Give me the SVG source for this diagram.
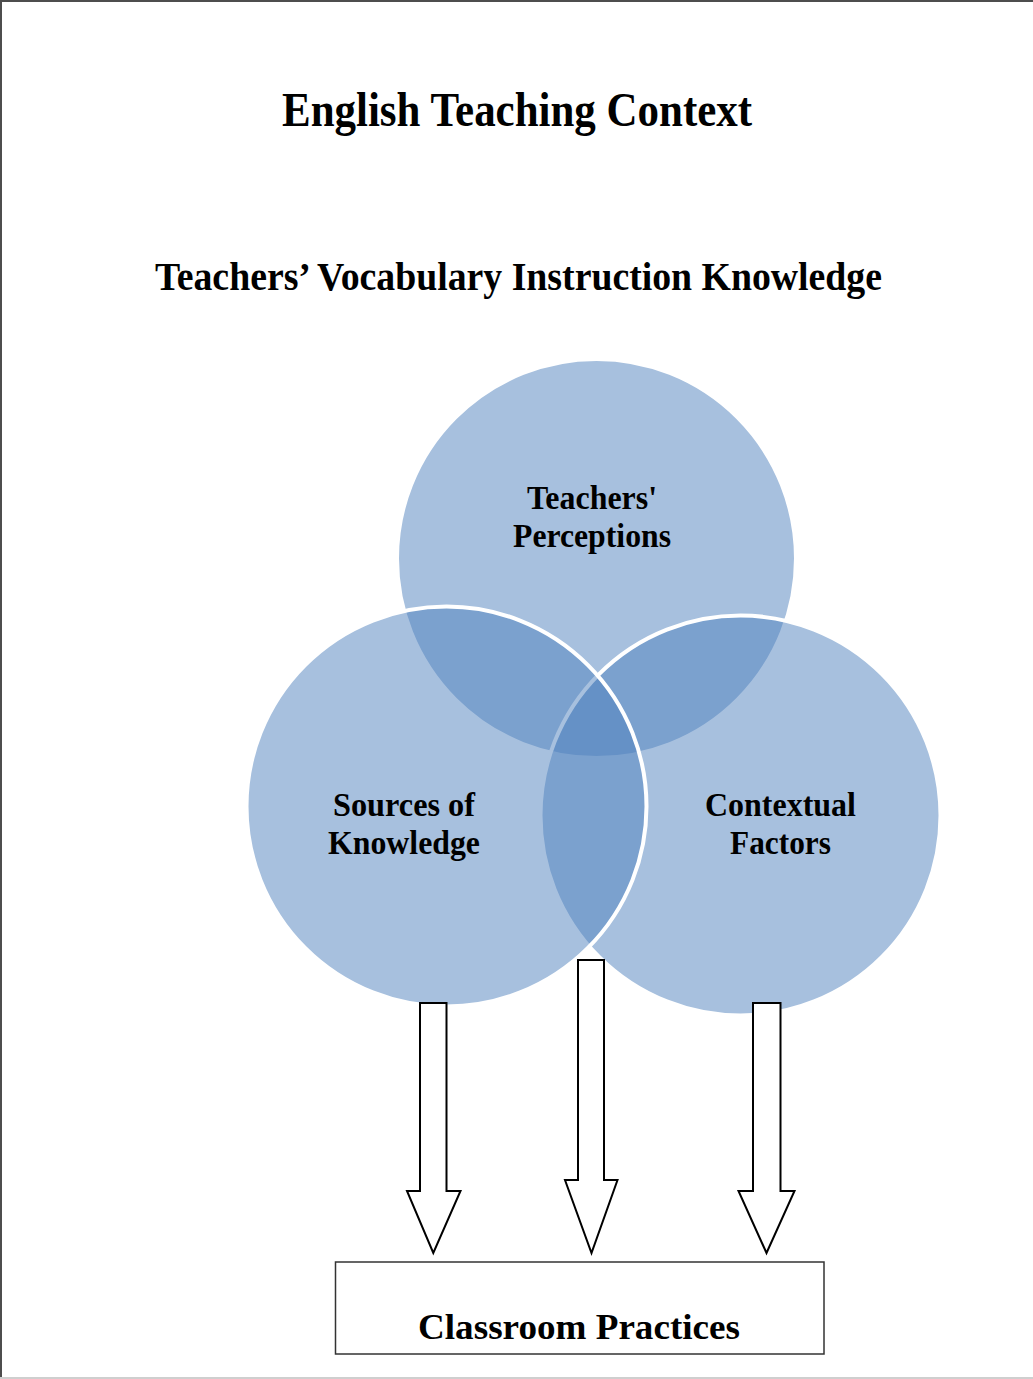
<svg xmlns="http://www.w3.org/2000/svg" width="1033" height="1379" viewBox="0 0 1033 1379">
  <style>
    .label { font-family: "Liberation Serif", "Times New Roman", serif; font-weight: bold; fill: #000; text-anchor: middle; }
    .circle { fill: #4F81BD; fill-opacity: 0.5; stroke: #FFFFFF; stroke-width: 4; }
    .arrow { fill: #FFFFFF; stroke: #000000; stroke-width: 2; stroke-linejoin: miter; }
  </style>
  <rect x="0" y="0" width="1033" height="1379" fill="#FFFFFF"/>
  <!-- page frame -->
  <line x1="0" y1="1" x2="1033" y2="1" stroke="#4d4d4d" stroke-width="2"/>
  <line x1="1" y1="0" x2="1" y2="1379" stroke="#4d4d4d" stroke-width="2"/>
  <line x1="0" y1="1378" x2="1033" y2="1378" stroke="#cfcfcf" stroke-width="2"/>

  <!-- headings -->
  <g id="title">
    <text class="label" x="517" y="126" font-size="48" textLength="470" lengthAdjust="spacingAndGlyphs">English Teaching Context</text>
  </g>
  <g id="subtitle">
    <text class="label" x="518.5" y="290" font-size="40" textLength="727" lengthAdjust="spacingAndGlyphs">Teachers’ Vocabulary Instruction Knowledge</text>
  </g>

  <!-- Venn circles: top, right, then left on top -->
  <g id="perceptions">
    <circle class="circle" cx="596.5" cy="558.5" r="199.5"/>
  </g>
  <g id="contextual-factors">
    <circle class="circle" cx="740.5" cy="815.5" r="200"/>
  </g>
  <g id="sources-of-knowledge">
    <circle class="circle" cx="446.5" cy="806.5" r="200"/>
  </g>

  <!-- circle labels -->
  <g id="perceptions-label">
    <text class="label" x="592" y="509" font-size="34" textLength="130" lengthAdjust="spacingAndGlyphs">Teachers'</text>
    <text class="label" x="592" y="547" font-size="34" textLength="158" lengthAdjust="spacingAndGlyphs">Perceptions</text>
  </g>
  <g id="sources-label">
    <text class="label" x="404" y="816" font-size="34" textLength="142" lengthAdjust="spacingAndGlyphs">Sources of</text>
    <text class="label" x="404" y="854" font-size="34" textLength="152" lengthAdjust="spacingAndGlyphs">Knowledge</text>
  </g>
  <g id="contextual-label">
    <text class="label" x="780.5" y="816" font-size="34" textLength="151" lengthAdjust="spacingAndGlyphs">Contextual</text>
    <text class="label" x="780.5" y="854" font-size="34" textLength="101" lengthAdjust="spacingAndGlyphs">Factors</text>
  </g>

  <!-- block arrows down to the practices box -->
  <g id="connectors">
    <polygon class="arrow" points="420,1003 446.5,1003 446.5,1191 460.5,1191 433.3,1253 407,1191 420,1191"/>
    <polygon class="arrow" points="578,960 604,960 604,1180 617.5,1180 591.5,1253 565,1180 578,1180"/>
    <polygon class="arrow" points="753,1003 780.5,1003 780.5,1191 794.5,1191 766.5,1253 738.5,1191 753,1191"/>
  </g>

  <g id="classroom-practices">
    <rect x="335.5" y="1262" width="488.5" height="92" fill="none" stroke="#333333" stroke-width="1.5"/>
    <text class="label" x="579" y="1339" font-size="36" textLength="322" lengthAdjust="spacingAndGlyphs">Classroom Practices</text>
  </g>
</svg>
